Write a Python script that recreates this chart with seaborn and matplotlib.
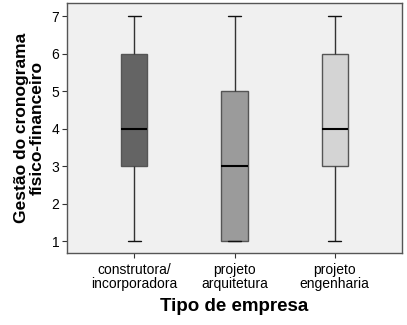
import matplotlib
matplotlib.use("Agg")
import matplotlib.pyplot as plt
import seaborn as sns
import pandas as pd

categories = ["construtora/\nincorporadora", "projeto\narquitetura", "projeto\nengenharia"]
values_construtora = [1, 3, 3, 4, 4, 5, 6, 6, 7]
values_arquitetura = [1, 1, 1, 2, 3, 4, 5, 5, 7]
values_engenharia = [1, 3, 3, 4, 4, 5, 6, 6, 7]
colors = ["#646464", "#9b9b9b", "#d4d4d4"]
yticks = [1, 2, 3, 4, 5, 6, 7]

df = pd.DataFrame({
    "tipo": [categories[0]] * len(values_construtora)
            + [categories[1]] * len(values_arquitetura)
            + [categories[2]] * len(values_engenharia),
    "valor": values_construtora + values_arquitetura + values_engenharia,
})

sns.set_style("white")
plt.rcParams["font.family"] = ["Liberation Sans", "DejaVu Sans"]
plt.rcParams["text.color"] = "black"
plt.rcParams["axes.labelcolor"] = "black"
plt.rcParams["xtick.color"] = "black"
plt.rcParams["ytick.color"] = "black"

fig = plt.figure(figsize=(4.07, 3.25), dpi=100)
ax = fig.add_axes([67 / 407, 72 / 325, 335 / 407, 250 / 325])
ax.set_facecolor("#f0f0f0")

sns.boxplot(data=df, x="tipo", y="valor", hue="tipo", order=categories,
            palette=colors, legend=False, width=0.26, ax=ax,
            linecolor="#333333", linewidth=1.0,
            medianprops=dict(color="#000000", linewidth=1.5),
            boxprops=dict(edgecolor="#555555"),
            whiskerprops=dict(color="#333333"),
            capprops=dict(color="#111111"))

ax.set_xlim(-0.67, 2.67)
ax.set_ylim(0.68, 7.35)
ax.set_yticks(yticks)
ax.set_yticklabels([str(v) for v in yticks])
ax.tick_params(axis="both", direction="out", length=3.5, width=0.8, color="#333333",
               labelcolor="black", labelsize=10, left=True, bottom=True, pad=2)
for lbl in ax.get_xticklabels():
    lbl.set_linespacing(1.0)
ax.tick_params(axis="x", pad=4)
for s in ax.spines.values():
    s.set_color("#555555")
    s.set_linewidth(1.0)

ax.set_xlabel("Tipo de empresa", fontsize=13.5, fontweight="bold", labelpad=5,
              color="black")
ax.set_ylabel("Gestão do cronograma\nfísico-financeiro", fontsize=12.5,
              fontweight="bold", labelpad=5, linespacing=1.05, color="black")

fig.savefig("out.png", dpi=100)
